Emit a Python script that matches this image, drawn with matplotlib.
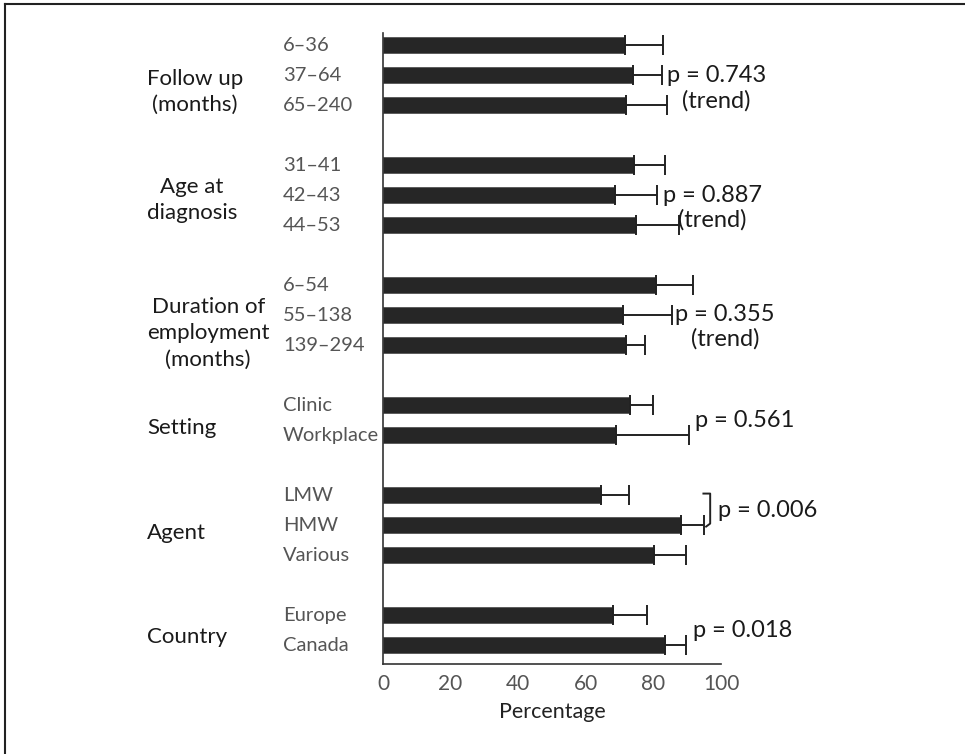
import matplotlib
matplotlib.use("Agg")
from matplotlib import pyplot as plt
from matplotlib.lines import Line2D
from matplotlib.transforms import blended_transform_factory
import numpy as np

plt.rcParams['font.family'] = ['Lato', 'DejaVu Sans']

# subgroup labels, bar slot on the y axis, percentage and upper error
categories = ['6\u201336', '37\u201364', '65\u2013240',
              '31\u201341', '42\u201343', '44\u201353',
              '6\u201354', '55\u2013138', '139\u2013294',
              'Clinic', 'Workplace',
              'LMW', 'HMW', 'Various',
              'Europe', 'Canada']
slots = [0, 1, 2, 4, 5, 6, 8, 9, 10, 12, 13, 15, 16, 17, 19, 20]
values = [71.6, 74.0, 71.9, 74.3, 68.6, 74.9, 80.8, 71.0, 71.9,
          73.1, 68.9, 64.5, 88.2, 80.2, 68.0, 83.4]
upper = [82.8, 82.5, 84.0, 83.4, 81.1, 87.6, 91.7, 85.5, 77.5,
         79.9, 90.5, 72.8, 95.0, 89.6, 78.1, 89.6]

groups = ['Follow up\n(months)', 'Age at\ndiagnosis',
          'Duration of\nemployment\n(months)', 'Setting', 'Agent', 'Country']
group_y = [1.57, 5.17, 9.6, 12.77, 16.27, 19.73]

pvals = ['p = 0.743\n(trend)', 'p = 0.887\n(trend)', 'p = 0.355\n(trend)',
         'p = 0.561', 'p = 0.006', 'p = 0.018']
pval_x = [84.0, 82.8, 86.4, 92.3, 99.1, 91.7]
pval_y = [1.45, 5.43, 9.4, 12.5, 15.5, 19.5]

fig = plt.figure(figsize=(9.65, 7.54), dpi=100)
ax = fig.add_axes([383 / 965, 1 - 664 / 754, 338 / 965, 631 / 754])

err = np.array(upper) - np.array(values)
ax.barh(slots, values, height=0.55, color='#262626', edgecolor='#555555',
        linewidth=0.6)
ax.errorbar(values, slots, xerr=[np.zeros(len(err)), err], fmt='none',
            ecolor='#222222', elinewidth=1.4, capsize=7.5, capthick=1.4)

ax.set_xlim(0, 100)
ax.set_ylim(20.63, -0.4)
ax.set_yticks([])
ax.set_xticks([0, 20, 40, 60, 80, 100])
ax.tick_params(axis='x', length=0, pad=7, labelsize=15, labelcolor='#555555')
for s in ['top', 'right']:
    ax.spines[s].set_visible(False)
for s in ['left', 'bottom']:
    ax.spines[s].set_color('#333333')
    ax.spines[s].set_linewidth(1.2)
ax.set_xlabel('Percentage', fontsize=15.5, color='#222222', labelpad=6)

# labels to the left of the axis
trans = blended_transform_factory(fig.transFigure, ax.transData)
for lab, y in zip(categories, slots):
    ax.text(283 / 965, y, lab, transform=trans, ha='left', va='center',
            fontsize=14.5, color='#555555')
for lab, y in zip(groups, group_y):
    ax.text(147 / 965, y, lab, transform=trans, ha='left', va='center',
            multialignment='center', fontsize=16, color='#1a1a1a',
            linespacing=1.4)

# p values
for lab, x, y in zip(pvals, pval_x, pval_y):
    ax.text(x, y, lab, ha='left', va='center', multialignment='center',
            fontsize=17, color='#1a1a1a', linespacing=1.2, clip_on=False)

# bracket joining LMW and HMW
ax.plot([94.8, 96.8, 96.8, 95.6], [14.95, 14.95, 15.95, 16.05],
        color='#222222', linewidth=1.4, clip_on=False,
        solid_joinstyle='round')

# page frame
fig.add_artist(Line2D([0.005, 1], [1 - 4 / 754] * 2, color='#222222',
                      linewidth=1.5, transform=fig.transFigure))
fig.add_artist(Line2D([5 / 965] * 2, [0, 1 - 4 / 754], color='#222222',
                      linewidth=1.5, transform=fig.transFigure))

fig.savefig('out.png', dpi=100)
